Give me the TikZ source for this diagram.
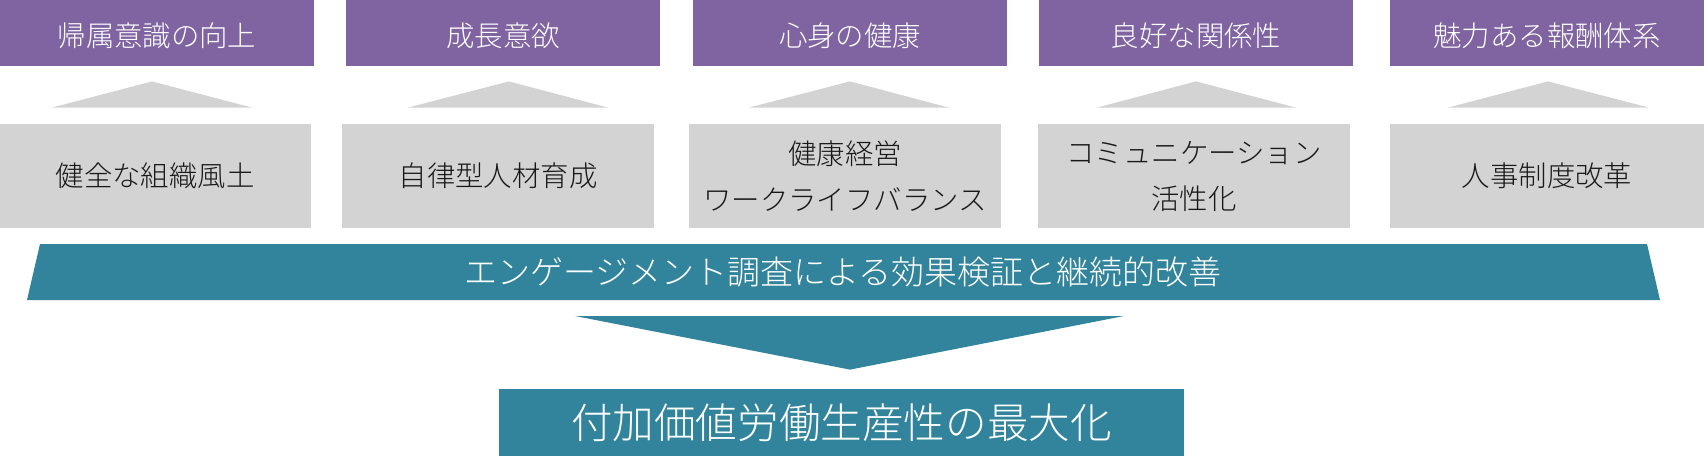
\documentclass[tikz,border=0pt]{standalone}
\usepackage{fontspec}
\setmainfont{Noto Sans CJK JP Light}
\usepackage{tikz}
\usetikzlibrary{calc,positioning}
\usepackage{xcolor}
\definecolor{hrpurple}{RGB}{128,100,162}
\definecolor{hrteal}{RGB}{49,132,155}
\definecolor{hrgray}{RGB}{211,211,211}
\definecolor{hrtext}{RGB}{25,25,25}
\tikzstyle{goal} = [rectangle, minimum width=157pt, minimum height=33pt, inner sep=0pt, text centered, text height=1.3em, text depth=0em, fill=hrpurple, text=white, font=\fontsize{14.2}{17}\selectfont]
\tikzstyle{measure} = [rectangle, minimum width=156pt, minimum height=52pt, inner sep=0pt, align=center, fill=hrgray, text=hrtext, font=\fontsize{14.2}{23}\selectfont]
\tikzstyle{uptri} = [fill=hrgray]
\tikzstyle{band} = [fill=hrteal]

\begin{document}
\begin{tikzpicture}[x=0.5pt, y=-0.5pt]
\useasboundingbox (0,0) rectangle (1704,456);

% Goals on top
\node[goal] at (157,33) (belong) {帰属意識の向上};
\node[goal] at (503,33) (growth) {成長意欲};
\node[goal] at (850,33) (health) {心身の健康};
\node[goal] at (1196,33) (relation) {良好な関係性};
\node[goal] at (1547,33) (reward) {魅力ある報酬体系};

% Measures
\node[measure] at (155,176) (climate) {健全な組織風土};
\node[measure] at (498,176) (autonomy) {自律型人材育成};
\node[measure] at (845,176) (wellness) {健康経営\\ワークライフバランス};
\node[measure] at (1194,176) (communication) {コミュニケーション\\活性化};
\node[measure, minimum width=157pt] at (1547,176) (hrsystem) {人事制度改革};

% Up arrows
\fill[uptri] ($(climate.north)+(-103,-16)$) -- ($(climate.north)+(97,-16)$) -- ($(belong.south)+(-5,15)$) -- cycle;
\fill[uptri] ($(autonomy.north)+(-90,-16)$) -- ($(autonomy.north)+(110,-16)$) -- ($(growth.south)+(6,15)$) -- cycle;
\fill[uptri] ($(wellness.north)+(-96,-16)$) -- ($(wellness.north)+(104,-16)$) -- ($(health.south)+(0,15)$) -- cycle;
\fill[uptri] ($(communication.north)+(-97,-16)$) -- ($(communication.north)+(102,-16)$) -- ($(relation.south)+(0,15)$) -- cycle;
\fill[uptri] ($(hrsystem.north)+(-99,-16)$) -- ($(hrsystem.north)+(102,-16)$) -- ($(reward.south)+(1,15)$) -- cycle;

% Survey band
\fill[band] (40,244) -- (1647,244) -- (1660,300) -- (27,300) -- cycle;
\node[text=white, font=\fontsize{16.5}{20}\selectfont] at (843,272) (survey) {エンゲージメント調査による効果検証と継続的改善};

% Result
\node[rectangle, minimum width=342.5pt, minimum height=33.5pt, inner sep=0pt, fill=hrteal, text=white, font=\fontsize{20.8}{25}\selectfont] at (841.5,422.5) (result) {付加価値労働生産性の最大化};
\fill[band] (575,316) -- (1124,316) -- ($(result.north)+(8.5,-19)$) -- cycle;
\end{tikzpicture}
\end{document}
